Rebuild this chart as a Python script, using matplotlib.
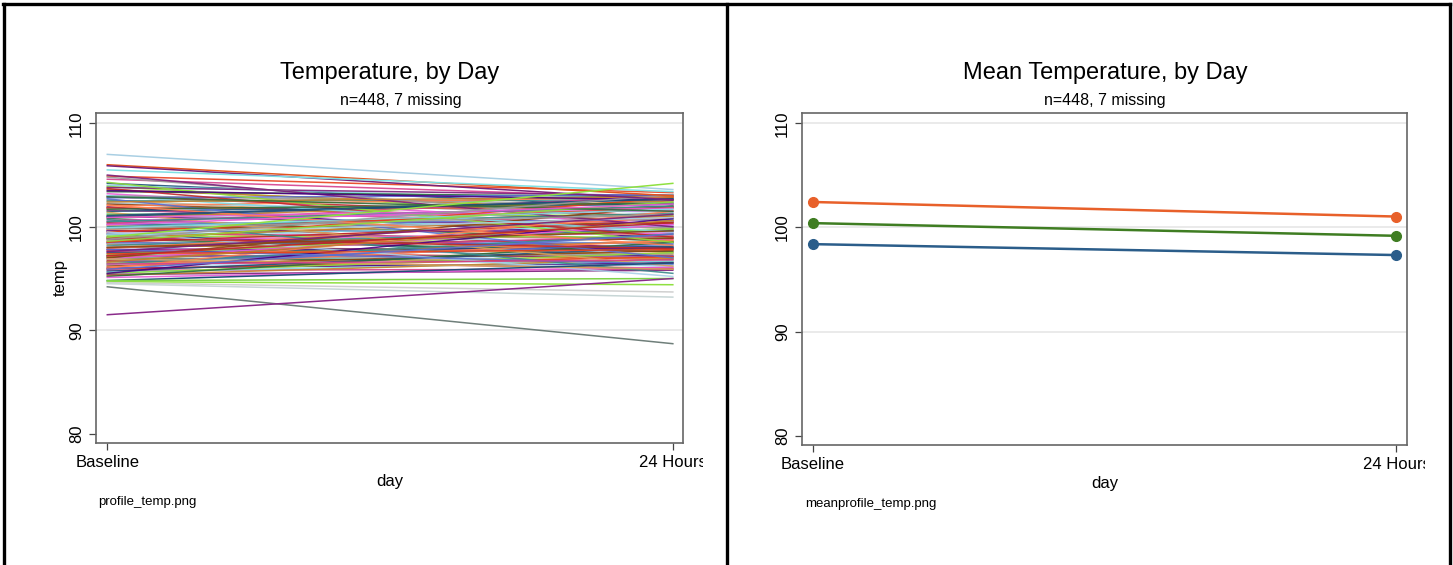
import matplotlib
matplotlib.use("Agg")
import matplotlib.pyplot as plt
from matplotlib.lines import Line2D
from matplotlib.patches import Rectangle

plt.rcParams["font.family"] = ["Liberation Sans", "DejaVu Sans"]

# ------------------------------------------------------------
# data
# ------------------------------------------------------------
days = ["Baseline", "24 Hours"]

# individual profiles (baseline, 24 hours) - the bulk of the spaghetti
base_vals = [104.9, 104.6, 104.2, 104.0, 103.9, 103.8, 103.6, 103.4, 103.2, 103.0,
             102.9, 102.8, 102.6, 102.5, 102.3, 102.2, 102.0, 101.9, 101.8, 101.6,
             101.5, 101.3, 101.2, 101.0, 100.9, 100.8, 100.6, 100.5, 100.4, 100.2,
             100.1, 100.0, 99.9, 99.8, 99.7, 99.6, 99.5, 99.4, 99.3, 99.2,
             99.1, 99.0, 98.9, 98.8, 98.7, 98.6, 98.5, 98.4, 98.3, 98.2,
             98.1, 98.0, 97.9, 97.8, 97.7, 97.6, 97.5, 97.4, 97.3, 97.2,
             97.1, 97.0, 96.9, 96.8, 96.7, 96.6, 96.5, 96.4, 96.3, 96.2,
             96.1, 96.0, 95.9, 95.8, 95.7, 95.6, 95.5, 95.4, 95.3, 95.2,
             95.1, 104.8, 103.7, 102.7, 101.4, 100.7, 99.5, 97.0, 96.0, 95.5,
             98.5, 100.3, 101.0, 103.0, 104.3, 105.0, 102.4, 101.7, 100.9, 99.8,
             98.9, 97.8, 96.9, 100.5, 99.3, 98.0, 102.1, 103.5, 97.4, 96.4,
             101.1, 99.9, 98.6, 97.6, 96.6, 102.9, 100.2, 98.8, 97.2, 95.9]
h24_vals = [103.3, 102.8, 101.9, 102.4, 100.8, 103.0, 101.5, 102.9, 100.2, 102.1,
            101.0, 103.1, 99.8, 102.6, 101.4, 100.6, 102.9, 98.9, 101.8, 100.3,
            102.2, 99.5, 101.1, 100.0, 102.5, 98.6, 101.6, 99.9, 97.8, 100.7,
            99.2, 101.3, 98.2, 100.4, 97.5, 99.6, 101.9, 98.8, 97.1, 100.1,
            99.0, 98.0, 101.0, 97.6, 99.4, 96.8, 100.5, 98.4, 97.3, 99.7,
            96.4, 98.9, 100.9, 97.9, 96.9, 99.1, 98.1, 96.2, 99.8, 97.2,
            98.6, 96.6, 100.2, 97.4, 96.0, 98.3, 97.0, 99.3, 96.3, 97.7,
            98.7, 96.5, 97.1, 95.9, 98.0, 96.7, 97.5, 95.8, 96.9, 98.5,
            96.1, 100.5, 99.0, 97.0, 96.2, 95.5, 95.2, 102.0, 101.5, 100.8,
            102.8, 103.0, 102.7, 99.5, 98.5, 100.0, 102.9, 102.3, 101.8, 101.2,
            97.9, 96.4, 95.9, 102.0, 100.9, 99.6, 98.2, 102.6, 97.8, 96.8,
            102.7, 101.7, 102.4, 101.2, 100.6, 101.5, 102.2, 103.1, 100.4, 99.3]

# profiles that stand out from the bundle
odd_base = [107.0, 106.0, 105.9, 105.5, 99.0, 94.8, 94.7, 94.8, 94.6, 94.5, 94.2, 91.5]
odd_h24 = [103.6, 103.0, 102.6, 103.4, 104.2, 96.5, 94.4, 95.0, 93.7, 93.2, 88.7, 95.0]
odd_colors = ["#a9cfe3", "#e2541e", "#7a237a", "#7fe0e3", "#8fe040", "#1f4e79",
              "#8fe040", "#7ed348", "#d0d0d0", "#c8d6d6", "#6f7f7a", "#8a2b8a"]

line_palette = ["#e8401c", "#d43f8d", "#1f4e79", "#7fd8e0", "#8fdc3c", "#7a1f7a",
                "#c47f2a", "#2e6b3a", "#e85ad8", "#9a9a9a", "#c0262a", "#5a6fd0",
                "#d6a25a", "#3a8a8a", "#a9d0e8", "#8b4513", "#ff7f50", "#4b0082"]

# mean profiles (three groups)
mean_base = [102.45, 100.42, 98.40]
mean_h24 = [101.05, 99.20, 97.35]
mean_colors = ["#e8602a", "#3f7d22", "#2b5d8a"]

# ------------------------------------------------------------
W, H = 1453, 565
fig = plt.figure(figsize=(W / 100, H / 100), dpi=100)
fig.patch.set_facecolor("white")


def px_axes(x0, y0, x1, y1):
    return fig.add_axes([x0 / W, 1 - y1 / H, (x1 - x0) / W, (y1 - y0) / H])


def style_axes(ax):
    ax.set_xlim(-0.02, 1.018)
    ax.set_ylim(79.1, 111.0)
    ax.set_yticks([80, 90, 100, 110])
    ax.set_xticks([0, 1])
    ax.set_xticklabels(days)
    for t in [90, 100, 110]:
        ax.axhline(t, color="#e6e6e6", linewidth=1.2, zorder=0)
    for s in ax.spines.values():
        s.set_color("#666666")
        s.set_linewidth(1.2)
    ax.tick_params(axis="both", direction="out", length=5, width=0.9,
                   color="#444444", labelsize=12)
    for lab in ax.get_yticklabels():
        lab.set_rotation(90)
        lab.set_va("center")
    ax.set_xlabel("day", fontsize=12, labelpad=3)


# --- left panel: individual profiles ---
ax1 = px_axes(96, 113, 683, 443)
for i, (b, h) in enumerate(zip(base_vals, h24_vals)):
    ax1.plot([0, 1], [b, h], color=line_palette[i % len(line_palette)],
             linewidth=1.1, alpha=0.9)
for b, h, c in zip(odd_base, odd_h24, odd_colors):
    ax1.plot([0, 1], [b, h], color=c, linewidth=1.1)
style_axes(ax1)
ax1.set_ylabel("temp", fontsize=12, labelpad=1)
fig.text(390 / W, 1 - 73 / H, "Temperature, by Day", ha="center", va="center", fontsize=17)
fig.text(401 / W, 1 - 100 / H, "n=448, 7 missing", ha="center", va="center", fontsize=11.5)
fig.text(98 / W, 1 - 502 / H, "profile_temp.png", ha="left", va="center", fontsize=9.5)

# --- right panel: mean profiles ---
ax2 = px_axes(802, 113, 1407, 445)
for b, h, c in zip(mean_base, mean_h24, mean_colors):
    ax2.plot([0, 1], [b, h], color=c, linewidth=1.8, marker="o", markersize=7,
             clip_on=False)
style_axes(ax2)
ax2.set_xlim(-0.018, 1.018)
fig.text(1105 / W, 1 - 73 / H, "Mean Temperature, by Day", ha="center", va="center", fontsize=17)
fig.text(1105 / W, 1 - 100 / H, "n=448, 7 missing", ha="center", va="center", fontsize=11.5)
fig.text(805 / W, 1 - 504 / H, "meanprofile_temp.png", ha="left", va="center", fontsize=9.5)

# the two screenshots are cropped: clip the tail of "24 Hours"
for x0, x1 in [(703, 724), (1425, 1448)]:
    fig.add_artist(Rectangle((x0 / W, 1 - 475 / H), (x1 - x0) / W, 30 / H,
                             transform=fig.transFigure, facecolor="white",
                             edgecolor="none", zorder=10))

# black frames around the two pictures
frame_kw = dict(color="black", linewidth=2.4, transform=fig.transFigure, zorder=11)
fig.add_artist(Line2D([3 / W, 1450 / W], [1 - 4 / H, 1 - 4 / H], **frame_kw))
for xv in [4, 727, 1450]:
    fig.add_artist(Line2D([xv / W, xv / W], [1 - 4 / H, 0], **frame_kw))

fig.savefig("out.png", dpi=100)
